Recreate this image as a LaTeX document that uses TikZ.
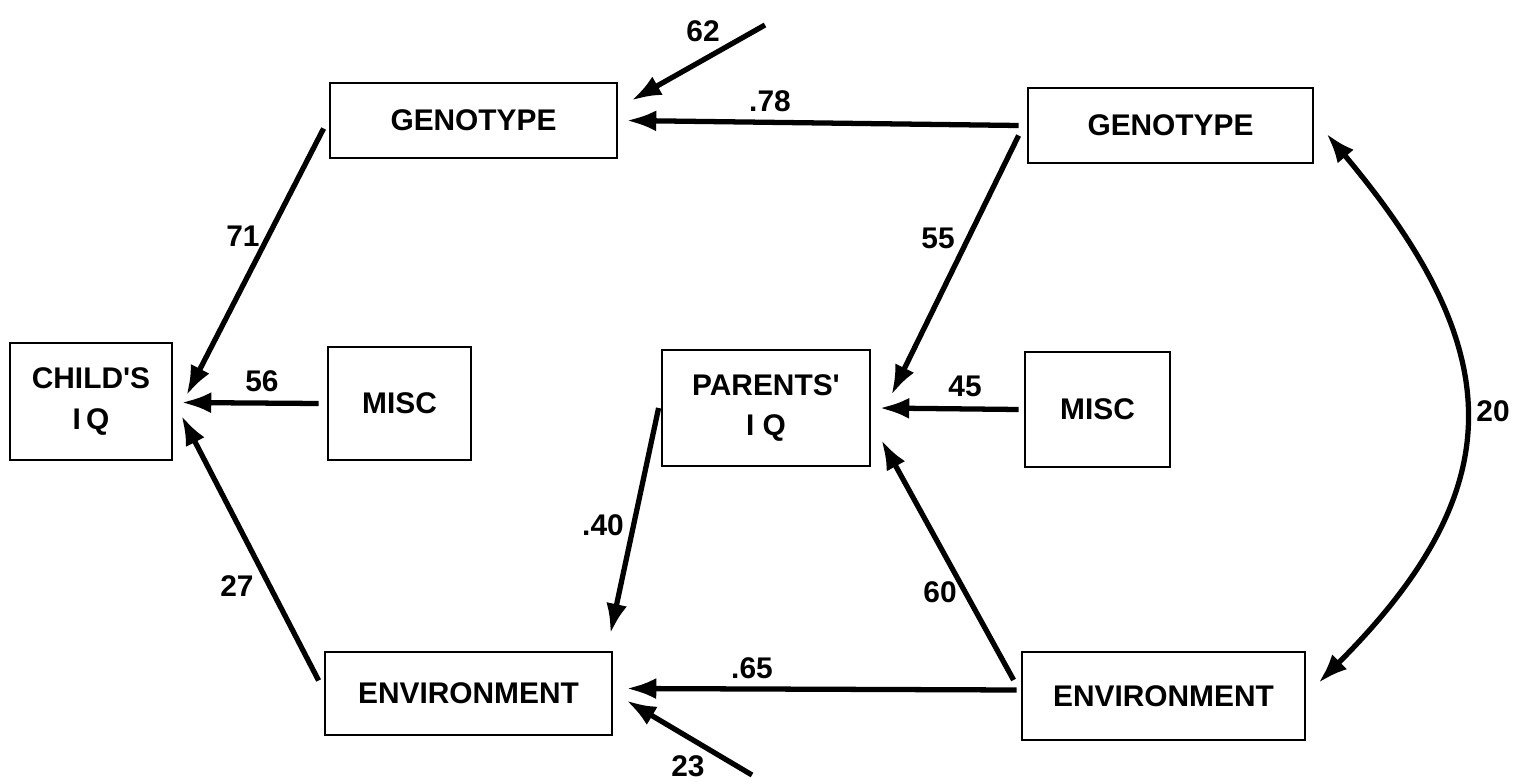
\documentclass[tikz,border=0pt]{standalone}
\usepackage{fontspec}
\setmainfont{Liberation Sans}
\usetikzlibrary{arrows.meta}
\begin{document}
\begin{tikzpicture}[x=0.02cm,y=-0.02cm,
  box/.style={draw,line width=1.6pt,inner sep=0pt,align=center,font=\fontsize{17}{21}\selectfont\bfseries},
  lab/.style={inner sep=0pt,font=\fontsize{17}{20}\selectfont\bfseries},
  arr/.style={line width=3pt,-{Latex[length=17pt,width=12pt]}},
  darr/.style={line width=3pt,{Latex[length=17pt,width=12pt]}-{Latex[length=17pt,width=12pt]}}]
\useasboundingbox (0,0) rectangle (1516,784);
% boxes
\node[box,minimum width=162*0.02cm,minimum height=117*0.02cm] (child) at (91,401.5) {CHILD\textquotesingle S\\[2pt]I\,Q};
\node[box,minimum width=287*0.02cm,minimum height=75*0.02cm] (genL) at (473.5,120.5) {GENOTYPE};
\node[box,minimum width=143*0.02cm,minimum height=113*0.02cm] (miscL) at (399.5,403.5) {MISC};
\node[box,minimum width=287*0.02cm,minimum height=83*0.02cm] (envL) at (468.5,693.5) {ENVIRONMENT};
\node[box,minimum width=208*0.02cm,minimum height=116*0.02cm] (par) at (766,408) {PARENTS\textquotesingle\\[2pt]I\;Q};
\node[box,minimum width=145*0.02cm,minimum height=115*0.02cm] (miscR) at (1097.5,409.5) {MISC};
\node[box,minimum width=285*0.02cm,minimum height=75*0.02cm] (genR) at (1170.5,125.5) {GENOTYPE};
\node[box,minimum width=283*0.02cm,minimum height=88*0.02cm] (envR) at (1163.5,696) {ENVIRONMENT};
% free ends
\coordinate (g62) at (765,25);
\coordinate (e23) at (752,775);
% arrows
\draw[arr] (g62) -- ([shift={(13,-20)}]genL.east);
\draw[arr] ([shift={(-8,0)}]genR.west) -- ([shift={(8,0)}]genL.east);
\draw[arr] ([shift={(-5,8)}]genL.west) -- ([shift={(13,-6)}]child.east);
\draw[arr] ([shift={(-8,0)}]miscL.west) -- ([shift={(8,1)}]child.east);
\draw[arr] ([shift={(-5,-13)}]envL.west) -- ([shift={(8,14)}]child.east);
\draw[arr] ([shift={(-8,10)}]genR.west) -- ([shift={(20,-13)}]par.east);
\draw[arr] ([shift={(-5,0)}]miscR.west) -- ([shift={(8,0)}]par.east);
\draw[arr] ([shift={(-7,-16)}]envR.west) -- ([shift={(10,32)}]par.east);
\draw[arr] ([shift={(-2,0)}]par.west) -- ([shift={(-3,-17)}]envL.north east);
\draw[arr] ([shift={(-4,-6)}]envR.west) -- ([shift={(13,-5)}]envL.east);
\draw[arr] (e23) -- ([shift={(13,7)}]envL.east);
\draw[darr] ([shift={(12,8)}]genR.east) to[out=-50,in=45,looseness=1.3] ([shift={(12,-13)}]envR.east);
% labels
\node[lab] (l62) at (703,31) {62};
\node[lab] (l78) at (770,101) {.78};
\node[lab] (l71) at (243,236) {71};
\node[lab] (l56) at (262,381) {56};
\node[lab] (l27) at (237,586) {27};
\node[lab] (l55) at (938,238) {55};
\node[lab] (l45) at (965,386) {45};
\node[lab] (l60) at (940,592) {60};
\node[lab] (l40) at (603,525) {.40};
\node[lab] (l65) at (752,668) {.65};
\node[lab] (l23) at (688,766) {23};
\node[lab] (l20) at (1493,411) {20};
\end{tikzpicture}
\end{document}
